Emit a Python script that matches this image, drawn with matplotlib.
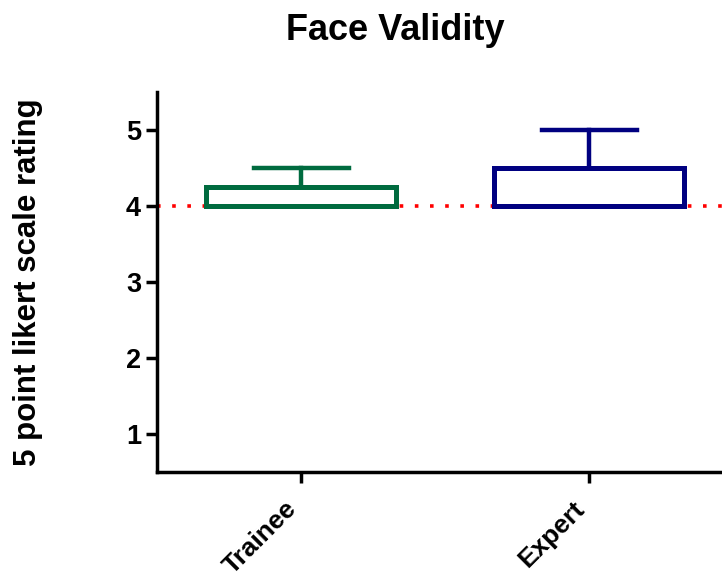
import matplotlib.pyplot as plt

plt.rcParams['font.family'] = ['Liberation Sans', 'DejaVu Sans']

groups = ['Trainee', 'Expert']
q1 = [4.0, 4.0]
median = [4.0, 4.0]
q3 = [4.25, 4.5]
whisk_lo = [4.0, 4.0]
whisk_hi = [4.5, 5.0]
colors = ['#006b3f', '#000080']
ref_value = 4


def main():
    fig = plt.figure(figsize=(7.22, 5.78), dpi=100)
    ax = fig.add_axes([0.2175, 0.1834, 0.79, 0.6574])

    ax.axhline(ref_value, color='red', linestyle=(0, (1, 3.2)), linewidth=2.6, zorder=1)

    for i, name in enumerate(groups):
        stats = [{'label': name, 'q1': q1[i], 'med': median[i], 'q3': q3[i],
                  'whislo': whisk_lo[i], 'whishi': whisk_hi[i], 'fliers': []}]
        props = dict(color=colors[i], linewidth=3.2)
        parts = ax.bxp(stats, positions=[i], widths=0.66, capwidths=0.33,
                       patch_artist=True,
                       boxprops=dict(facecolor='white', edgecolor=colors[i], linewidth=3.6),
                       medianprops=dict(linewidth=0), whiskerprops=props, capprops=props,
                       showfliers=False, zorder=3)
        # lower whisker/cap sit on the box edge; hide them
        if whisk_lo[i] == q1[i]:
            parts['caps'][0].set_visible(False)
            parts['whiskers'][0].set_visible(False)
        for m in parts['medians']:
            m.set_visible(False)

    ax.set_xlim(-0.5, 1.48)
    ax.set_ylim(0.5, 5.5)
    ax.set_yticks([1, 2, 3, 4, 5])
    ax.set_xticks([0, 1])
    ax.set_xticklabels(groups, rotation=45, ha='right', va='bottom',
                       rotation_mode='anchor', fontsize=19, fontweight='bold')
    for lab in ax.get_yticklabels():
        lab.set_fontsize(19.5)
        lab.set_fontweight('bold')

    for side in ['top', 'right']:
        ax.spines[side].set_visible(False)
    for side in ['left', 'bottom']:
        ax.spines[side].set_linewidth(2.5)
    ax.tick_params(width=2.5, length=8)
    ax.tick_params(axis='x', pad=22)

    fig.text(28 / 722, 1 - 282 / 578, '5 point likert scale rating', rotation=90,
             ha='center', va='center', fontsize=22.5, fontweight='bold')
    fig.text(395 / 722, 1 - 30 / 578, 'Face Validity', ha='center', va='center',
             fontsize=26, fontweight='bold')

    fig.savefig('out.png', dpi=100)


if __name__ == '__main__':
    main()
